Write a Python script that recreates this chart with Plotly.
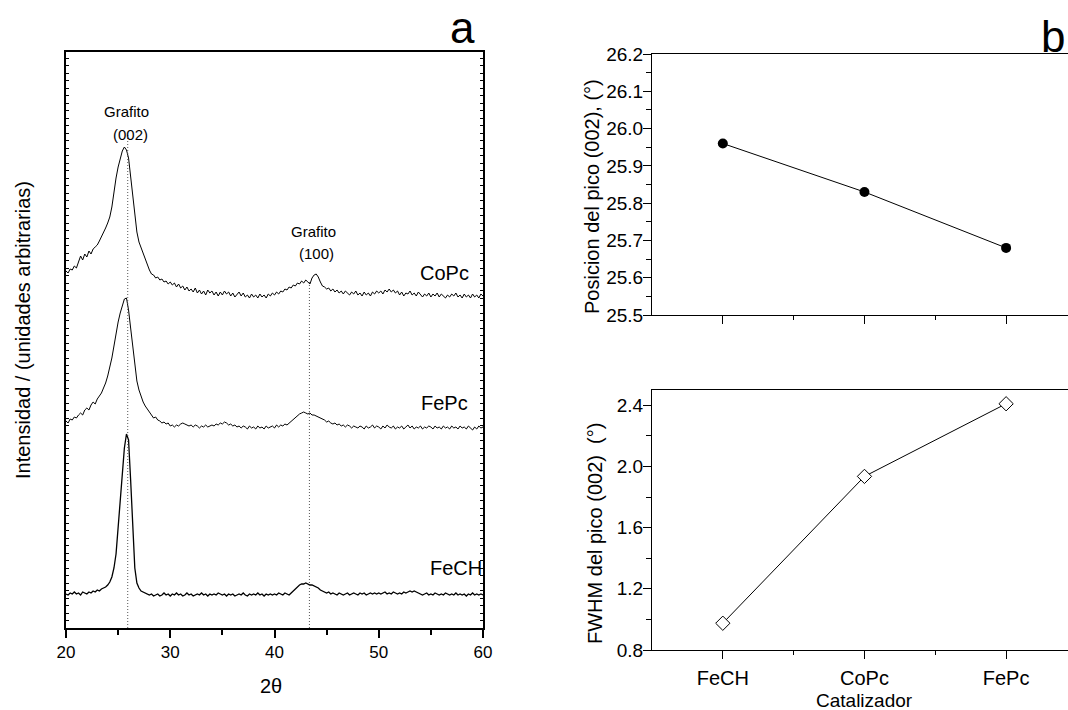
import numpy as np
import plotly.graph_objects as go

# ---------------- data: panel a (XRD patterns, arbitrary units) ----------------
TWO_THETA = np.round(np.arange(20.0, 60.0001, 0.2), 1)

COPC = [
    357, 355, 359, 358, 362, 360, 366, 372, 368, 374,
    371, 377, 374, 379, 381, 383, 387, 391, 395, 400,
    405, 411, 421, 438, 450, 461, 470, 477, 481, 478,
    470, 452, 432, 413, 396, 386, 380, 375, 370, 364,
    358, 354, 353, 350, 351, 348, 349, 346, 347, 344,
    346, 343, 345, 341, 344, 340, 342, 338, 341, 337,
    339, 336, 340, 335, 338, 334, 337, 333, 338, 335,
    337, 333, 336, 332, 336, 333, 337, 334, 336, 332,
    335, 331, 334, 336, 332, 335, 331, 333, 330, 334,
    331, 333, 330, 334, 331, 333, 330, 334, 332, 335,
    333, 336, 334, 337, 336, 339, 338, 341, 340, 343,
    342, 345, 344, 347, 345, 348, 346, 344, 350, 353,
    354, 351, 346, 342, 341, 339, 340, 337, 339, 336,
    338, 335, 337, 334, 337, 335, 333, 336, 334, 337,
    333, 335, 332, 336, 333, 335, 332, 336, 334, 337,
    335, 337, 334, 338, 336, 339, 336, 338, 335, 337,
    333, 336, 332, 335, 334, 337, 333, 335, 332, 336,
    333, 331, 334, 332, 335, 331, 334, 332, 335, 331,
    334, 332, 330, 333, 331, 334, 332, 335, 331, 333,
    330, 334, 331, 333, 330, 334, 331, 333, 330, 334,
    332,
]

FEPC = [
    207, 205, 209, 208, 211, 210, 213, 215, 213, 218,
    220, 218, 223, 226, 224, 229, 232, 235, 240, 245,
    252, 260, 270, 282, 295, 306, 315, 323, 329, 330,
    318, 300, 280, 262, 247, 238, 231, 226, 222, 219,
    215, 213, 210, 211, 208, 207, 205, 206, 204, 205,
    202, 203, 201, 203, 202, 204, 205, 204, 203, 202,
    203, 201, 203, 202, 200, 202, 201, 203, 201, 202,
    203, 202, 204, 203, 205, 204, 206, 205, 203, 204,
    202, 203, 201, 202, 200, 202, 201, 199, 202, 200,
    201, 199, 202, 200, 201, 199, 202, 200, 201, 202,
    200, 203, 201, 203, 202, 204, 203, 205, 206, 208,
    210, 212, 214, 215, 216, 215, 214, 215, 213, 213,
    212, 211, 210, 209, 208, 206, 207, 205, 204, 205,
    203, 204, 202, 203, 201, 203, 202, 200, 202, 201,
    200, 202, 201, 199, 202, 200, 201, 203, 200, 202,
    201, 199, 202, 200, 203, 201, 200, 202, 199, 201,
    200, 202, 199, 201, 203, 200, 202, 199, 201, 200,
    202, 199, 201, 200, 202, 201, 199, 202, 200, 201,
    199, 202, 200, 201, 199, 202, 200, 201, 199, 202,
    200, 201, 199, 202, 200, 198, 201, 199, 202, 200,
    201,
]

FECH = [
    34, 33, 35, 34, 36, 34, 35, 33, 36, 35,
    34, 36, 35, 37, 36, 38, 37, 39, 40, 41,
    43, 46, 51, 60, 74, 100, 130, 158, 180, 194,
    188, 148, 95, 60, 45, 40, 37, 36, 35, 34,
    33, 34, 32, 33, 34, 32, 33, 35, 33, 34,
    32, 34, 33, 35, 33, 34, 32, 33, 35, 33,
    34, 32, 33, 34, 33, 35, 33, 34, 32, 34,
    33, 34, 33, 35, 34, 33, 34, 32, 34, 33,
    34, 32, 33, 34, 33, 35, 33, 32, 34, 33,
    34, 33, 35, 33, 34, 32, 34, 33, 34, 33,
    34, 33, 35, 34, 33, 35, 34, 33, 35, 37,
    40, 42, 43, 44, 44, 45, 44, 43, 43, 42,
    41, 40, 38, 37, 36, 35, 36, 34, 35, 34,
    33, 35, 34, 33, 34, 35, 33, 34, 35, 34,
    33, 35, 34, 35, 33, 34, 35, 34, 35, 34,
    35, 34, 35, 36, 34, 35, 34, 36, 35, 34,
    35, 34, 36, 35, 36, 37, 36, 37, 36, 35,
    34, 33, 34, 35, 33, 34, 33, 35, 34, 33,
    34, 33, 35, 34, 33, 34, 33, 35, 33, 34,
    33, 34, 32, 34, 33, 35, 33, 34, 33, 34,
    33,
]

SAMPLES = ["CoPc", "FePc", "FeCH"]
PEAK_002 = 25.92
PEAK_100 = 43.35
LINE_002_TOP = 493
LINE_100_TOP = 348

# ---------------- data: panel b ----------------
CATALYSTS = ["FeCH", "CoPc", "FePc"]
PEAK_POSITION = [25.96, 25.83, 25.68]
FWHM = [0.975, 1.935, 2.41]

assert len(COPC) == len(FEPC) == len(FECH) == len(TWO_THETA)

FONT = "Arial, 'Liberation Sans', sans-serif"
W, H = 1068, 710

def px_x(p):
    return p / W

def px_y(p):
    return 1 - p / H

fig = go.Figure()

# panel a curves
for name, vals, lw in [("CoPc", COPC, 1.0), ("FePc", FEPC, 1.0), ("FeCH", FECH, 1.3)]:
    fig.add_trace(go.Scatter(x=TWO_THETA, y=vals, mode="lines", name=name,
                             line=dict(color="black", width=lw),
                             xaxis="x", yaxis="y", showlegend=False))

# dotted reference lines
for pk, top in [(PEAK_002, LINE_002_TOP), (PEAK_100, LINE_100_TOP)]:
    fig.add_trace(go.Scatter(x=[pk, pk], y=[0, top], mode="lines",
                             line=dict(color="#555", width=1, dash="1px,2px"),
                             xaxis="x", yaxis="y", showlegend=False))

# panel b
x_idx = list(range(len(CATALYSTS)))
fig.add_trace(go.Scatter(x=x_idx, y=PEAK_POSITION, mode="lines+markers",
                         line=dict(color="black", width=1),
                         marker=dict(symbol="circle", size=10, color="black"),
                         xaxis="x2", yaxis="y2", showlegend=False))
fig.add_trace(go.Scatter(x=x_idx, y=FWHM, mode="lines+markers",
                         line=dict(color="black", width=1),
                         marker=dict(symbol="diamond", size=11, color="white",
                                     line=dict(color="black", width=1)),
                         xaxis="x3", yaxis="y3", showlegend=False))

tickfont_a = dict(family=FONT, size=17, color="black")
tickfont_b = dict(family=FONT, size=19, color="black")

layout = dict(
    width=W, height=H,
    template="none",
    margin=dict(l=0, r=0, t=0, b=0, autoexpand=False),
    paper_bgcolor="white", plot_bgcolor="white",
    font=dict(family=FONT, color="black"),
    xaxis=dict(domain=[px_x(66), px_x(483)], range=[20, 60], anchor="y", automargin=False,
               showline=True, linecolor="black", linewidth=1.5, mirror=True,
               ticks="outside", ticklen=8, tickwidth=1.5, tickcolor="black",
               dtick=10, tick0=20, tickfont=tickfont_a,
               minor=dict(ticks="outside", ticklen=5, tickwidth=1.5, dtick=5, tickcolor="black"),
               showgrid=False, zeroline=False),
    yaxis=dict(domain=[px_y(628), px_y(52)], range=[0, 576], anchor="x", automargin=False,
               showline=True, linecolor="black", linewidth=1.5, mirror="allticks",
               ticks="inside", ticklen=3, tickwidth=1, tickcolor="black",
               tick0=0, dtick=7.5, showticklabels=False,
               showgrid=False, zeroline=False),
    xaxis2=dict(domain=[px_x(652), 1.0], range=[-0.5, 2.437], anchor="y2", automargin=False,
                showline=True, linecolor="black", linewidth=1, mirror=True,
                ticks="outside", ticklen=8, tickwidth=1, tickcolor="black",
                tickvals=x_idx, ticktext=CATALYSTS, showticklabels=False,
                minor=dict(ticks="outside", ticklen=4, tickwidth=1, tickvals=[0.5, 1.5], tickcolor="black"),
                showgrid=False, zeroline=False),
    yaxis2=dict(domain=[px_y(315), px_y(54)], range=[25.5, 26.2], anchor="x2", automargin=False,
                showline=True, linecolor="black", linewidth=1,
                ticks="outside", ticklen=8, tickwidth=1, tickcolor="black",
                dtick=0.1, tick0=25.5, tickformat=".1f", tickfont=tickfont_b,
                ticklabelstandoff=-4,
                minor=dict(ticks="outside", ticklen=5, tickwidth=1, dtick=0.05, tickcolor="black"),
                showgrid=False, zeroline=False),
    xaxis3=dict(domain=[px_x(652), 1.0], range=[-0.5, 2.437], anchor="y3", automargin=False,
                showline=True, linecolor="black", linewidth=1, mirror=True,
                ticks="outside", ticklen=8, tickwidth=1, tickcolor="black",
                tickvals=x_idx, ticktext=CATALYSTS, tickfont=dict(family=FONT, size=20, color="black"),
                ticklabelstandoff=2,
                minor=dict(ticks="outside", ticklen=4, tickwidth=1, tickvals=[0.5, 1.5], tickcolor="black"),
                showgrid=False, zeroline=False),
    yaxis3=dict(domain=[px_y(650), px_y(390)], range=[0.8, 2.5], anchor="x3", automargin=False,
                showline=True, linecolor="black", linewidth=1,
                ticks="outside", ticklen=8, tickwidth=1, tickcolor="black",
                tickvals=[0.8, 1.2, 1.6, 2.0, 2.4], tickformat=".1f", tickfont=tickfont_b,
                ticklabelstandoff=-4,
                minor=dict(ticks="outside", ticklen=5, tickwidth=1,
                           tickvals=[1.0, 1.4, 1.8, 2.2], tickcolor="black"),
                showgrid=False, zeroline=False),
)
fig.update_layout(**layout)

ann = []
def A(text, x, y, size, xref="x", yref="y", angle=0, xanchor="center", yanchor="middle"):
    ann.append(dict(text=text, x=x, y=y, xref=xref, yref=yref, showarrow=False,
                    textangle=angle, xanchor=xanchor, yanchor=yanchor,
                    font=dict(family=FONT, size=size, color="black")))

# peak annotations (panel a)
A("Grafito", 25.82, 517, 15)
A("(002)", 26.14, 494, 15)
A("Grafito", 43.73, 397, 15)
A("(100)", 44.06, 375, 15)
# sample labels
A(SAMPLES[0], 56.28, 355, 20)
A(SAMPLES[1], 56.34, 225, 20)
A(SAMPLES[2], 57.4, 60, 20)
# titles in paper coordinates
A("2θ", px_x(271), px_y(686), 20, xref="paper", yref="paper")
A("Intensidad / (unidades arbitrarias)", px_x(23), px_y(330), 20, xref="paper", yref="paper", angle=-90)
A("Posicion del pico (002), (°)", px_x(592), px_y(197), 20, xref="paper", yref="paper", angle=-90)
A("FWHM del pico (002)\u00a0 (°)", px_x(595), px_y(534), 20, xref="paper", yref="paper", angle=-90)
A("Catalizador", px_x(864), px_y(700), 19, xref="paper", yref="paper")
# panel letters
A("a", px_x(462), px_y(28), 44, xref="paper", yref="paper")
A("b", px_x(1053), px_y(36), 44, xref="paper", yref="paper")

fig.update_layout(annotations=ann)
fig.write_html("out.html", config={"displayModeBar": False},
               post_script="document.body.style.margin='0px';document.body.style.overflow='hidden';")
